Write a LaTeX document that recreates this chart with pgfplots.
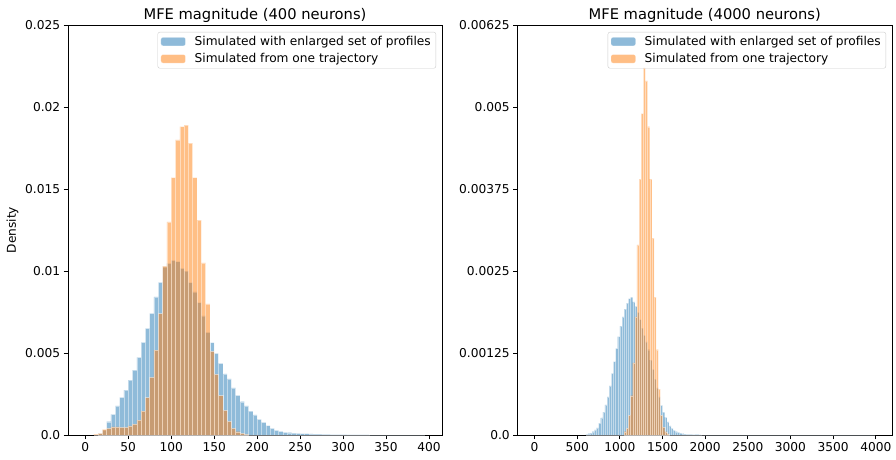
\documentclass[border=0pt]{standalone}
\usepackage{pgfplots}
\pgfplotsset{compat=1.18}
\usepackage{pgfplotstable}
\usepackage{fontspec}
\setmainfont{DejaVu Sans}
\definecolor{c0}{HTML}{1F77B4}
\definecolor{c1}{HTML}{FF7F0E}
\newcommand{\smallfnt}{\fontsize{12.2}{14.6}\selectfont}
\newcommand{\titlefnt}{\fontsize{14.7}{17.6}\selectfont}

\pgfplotstableread{
x y
15 0.0001
20 0.0003
25 0.00081
30 0.00126
35 0.00177
40 0.00230
45 0.00274
50 0.00335
55 0.00396
60 0.00474
65 0.00565
70 0.00650
75 0.00742
80 0.00843
85 0.00931
90 0.01026
95 0.01047
100 0.01065
105 0.01057
110 0.01016
115 0.01000
120 0.00929
125 0.00872
130 0.00807
135 0.00726
140 0.00626
145 0.00563
150 0.00498
155 0.00437
160 0.00372
165 0.00343
170 0.00287
175 0.00242
180 0.00203
185 0.00177
190 0.00146
195 0.00122
200 0.00096
205 0.00077
210 0.00057
215 0.00041
220 0.00028
225 0.00022
230 0.00016
235 0.00014
240 0.00012
245 0.00010
250 0.00009
255 0.00008
260 0.00007
265 0.00006
270 0.00005
275 0.00004
280 0.00004
285 0.00003
290 0.00003
295 0.00002
300 0.00002
305 0.00001
310 0.00001
315 0.00001
320 0.00001
325 0.00001
330 0
395 0
}\blueA

\pgfplotstableread{
x y
10 0.00005
15 0.0001
20 0.00035
25 0.0004
30 0.0005
35 0.0005
40 0.00047
45 0.00047
50 0.00055
55 0.00067
60 0.00091
65 0.00146
70 0.00228
75 0.00352
80 0.00518
85 0.0074
90 0.0103
95 0.0130
100 0.0157
105 0.0180
110 0.0188
115 0.0189
120 0.0178
125 0.0157
130 0.0131
135 0.0105
140 0.0080
145 0.0051
150 0.0037
155 0.0024
160 0.0015
165 0.00083
170 0.0004
175 0.0002
180 0.0001
185 0.00004
190 0
}\orangeA

\pgfplotstableread{
x y
600 0.00001
625 0.00002
650 0.00003
675 0.00005
700 0.00008
725 0.00011
750 0.00018
775 0.00026
800 0.00035
825 0.00046
850 0.00058
875 0.00075
900 0.00094
925 0.00112
950 0.00132
975 0.00150
1000 0.00166
1025 0.00180
1050 0.00192
1075 0.00201
1100 0.00208
1125 0.00210
1150 0.00203
1175 0.00196
1200 0.00187
1225 0.00176
1250 0.00163
1275 0.00152
1300 0.00142
1325 0.00130
1350 0.00114
1375 0.00100
1400 0.00085
1425 0.00072
1450 0.00058
1475 0.00045
1500 0.00035
1525 0.00027
1550 0.00020
1575 0.00014
1600 0.00010
1625 0.00007
1650 0.00005
1675 0.00004
1700 0.00003
1725 0.00002
1750 0.000015
1775 0.00001
1800 0.00001
1825 0.000008
1850 0.000006
1875 0.000005
1900 0.000004
1925 0.000003
1950 0
3990 0
}\blueB

\pgfplotstableread{
x y
1050 0.00005
1075 0.0001
1100 0.0003
1125 0.0006
1150 0.0011
1175 0.0018
1200 0.0029
1225 0.0039
1250 0.0049
1275 0.0056
1300 0.0054
1325 0.0047
1350 0.0039
1375 0.0030
1400 0.0021
1425 0.0013
1450 0.0007
1475 0.0003
1500 0.00012
1525 0.00005
1550 0.00002
1575 0
}\orangeB

\pgfplotsset{
  histaxis/.style={
    scale only axis,
    width=374pt, height=410pt,
    anchor=south west,
    enlargelimits=false,
    tick align=outside,
    xtick pos=bottom, ytick pos=left,
    major tick length=4.3pt,
    axis line style={line width=0.95pt},
    every tick/.style={black, line width=0.95pt},
    xticklabel style={font=\smallfnt},
    yticklabel style={font=\smallfnt},
    ylabel style={font=\smallfnt},
    /pgf/number format/assume math mode=true,
    /pgf/number format/1000 sep={},
    scaled x ticks=false, scaled y ticks=false,
    title style={font=\titlefnt, at={(0.5,1)}, anchor=south, inner sep=0pt, yshift=-3.5pt},
    legend cell align=left,
    legend style={at={(1,1)}, anchor=north east, xshift=-6pt, yshift=-7pt,
      draw=black!20, rounded corners=2pt, fill=white, fill opacity=0.8, text opacity=1,
      font=\smallfnt, inner xsep=3pt, inner ysep=2pt, row sep=2.5pt,
      nodes={inner sep=2pt},
      /tikz/every odd column/.append style={column sep=7pt}},
    legend image code/.code={\fill[##1] (0pt,-4.2pt) rectangle (24.5pt,4.2pt);},
  },
  bluebar/.style={ybar interval, fill=c0, fill opacity=0.5, draw=white, draw opacity=0.45, line width=#1},
  orangebar/.style={ybar interval, fill=c1, fill opacity=0.5, draw=white, draw opacity=0.45, line width=#1},
}

\begin{document}
\begin{tikzpicture}
\path[use as bounding box] (0pt,0pt) rectangle (896pt,459pt);
\begin{axis}[histaxis,
  at={(68pt,24pt)},
  xmin=-20, xmax=415, ymin=0, ymax=0.025,
  xtick={0,50,...,400},
  ytick={0,0.005,0.01,0.015,0.02,0.025},
  yticklabels={0.0,0.005,0.01,0.015,0.02,0.025},
  title={MFE magnitude (400 neurons)},
  ylabel={Density},
  ]
\addplot[bluebar=0.4pt] table[x=x,y=y] {\blueA};
\addlegendentry{Simulated with enlarged set of profiles}
\addplot[orangebar=0.4pt] table[x=x,y=y] {\orangeA};
\addlegendentry{Simulated from one trajectory}
\end{axis}
\begin{axis}[histaxis,
  at={(517.5pt,24pt)}, width=374.5pt,
  xmin=-200, xmax=4190, ymin=0, ymax=0.00625,
  xtick={0,500,...,4000},
  ytick={0,0.00125,0.0025,0.00375,0.005,0.00625},
  yticklabels={0.0,0.00125,0.0025,0.00375,0.005,0.00625},
  title={MFE magnitude (4000 neurons)},
  ]
\addplot[bluebar=0.25pt] table[x=x,y=y] {\blueB};
\addlegendentry{Simulated with enlarged set of profiles}
\addplot[orangebar=0.25pt] table[x=x,y=y] {\orangeB};
\addlegendentry{Simulated from one trajectory}
\end{axis}
\end{tikzpicture}
\end{document}
